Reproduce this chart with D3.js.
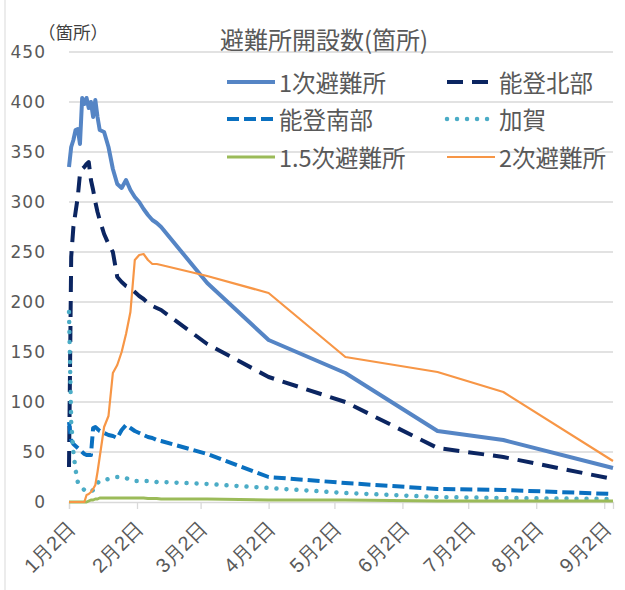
<!DOCTYPE html>
<html lang="ja">
<head>
<meta charset="UTF-8">
<title>避難所開設数</title>
<script src="https://d3js.org/d3.v7.min.js"></script>
<style>
    body {
        margin: 0;
        background: #fff;
        font-family: "Noto Sans CJK JP", "Noto Sans", sans-serif;
    }
    .tick-label {
        font-size: 20px;
        fill: #595959;
    }
    .y-label {
        font-family: "DejaVu Sans", sans-serif;
        font-size: 17px;
        letter-spacing: 1px;
        fill: #595959;
    }
    .title {
        font-size: 24px;
        fill: #595959;
    }
    .legend-text {
        font-size: 23.5px;
        fill: #595959;
    }
    .unit {
        font-size: 17.5px;
        fill: #404040;
    }
</style>
</head>
<body>
<script>
    const width = 625;
    const height = 590;

    // 日付 (1月〜2月は日次、以降は更新日)
    const dates = [
        "2024-01-02", "2024-01-03", "2024-01-04", "2024-01-05", "2024-01-06",
        "2024-01-07", "2024-01-08", "2024-01-09", "2024-01-10", "2024-01-11",
        "2024-01-12", "2024-01-13", "2024-01-14", "2024-01-15", "2024-01-16",
        "2024-01-18", "2024-01-20", "2024-01-22", "2024-01-24", "2024-01-26",
        "2024-01-28", "2024-01-30", "2024-02-01", "2024-02-03", "2024-02-05",
        "2024-02-07", "2024-02-09", "2024-02-11", "2024-02-13", "2024-03-05",
        "2024-04-02", "2024-05-07", "2024-06-18", "2024-07-18", "2024-09-06"
    ];

    const primary = [335, 355, 362, 372, 373, 358, 404, 398, 404, 394, 400, 385, 402, 385, 372,
        370, 355, 333, 318, 314, 322, 312, 305, 300, 293, 287, 282, 279, 275, 219,
        162, 129, 71, 62, 34];
    const notoNorth = [35, 245, 275, 290, 305, 328, 333, 335, 338, 340, 322, 312, 300, 290, 282,
        268, 258, 250, 225, 220, 216, 214, 210, 206, 203, 199, 196, 194, 192, 158,
        125, 100, 54, 45, 23];
    const notoSouth = [80, 62, 58, 56, 54, 52, 50, 48, 47, 47, 47, 74, 75, 73, 71,
        69, 67, 66, 64, 72, 77, 74, 71, 69, 67, 65, 64, 62, 61, 48,
        25, 19, 13, 12, 8];
    const kaga = [190, 80, 50, 32, 20, 17, 14, 12, 11, 10, 10, 12, 17, 19, 21,
        22, 23, 24, 25, 25, 24, 22, 21, 21, 21, 21, 21, 20, 20, 18,
        14, 9, 5, 4, 3];
    const welfare15 = [0, 0, 0, 0, 0, 0, 0, 0, 0, 1, 2, 2, 3, 3, 4,
        4, 4, 4, 4, 4, 4, 4, 4, 4, 4, 3.5, 3.5, 3.5, 3, 3,
        2, 2, 1, 1, 1];
    const secondary = [0, 0, 0, 0, 0, 0, 0, 0, 7, 8, 10, 13, 17, 30, 45,
        75, 86, 129, 137, 150, 168, 190, 242, 247, 248, 242, 238, 238, 237, 226,
        209, 145, 130, 110, 41];

    const yTicks = [0, 50, 100, 150, 200, 250, 300, 350, 400, 450];
    const xTickDates = ["2024-01-02", "2024-02-02", "2024-03-02", "2024-04-02", "2024-05-02",
        "2024-06-02", "2024-07-02", "2024-08-02", "2024-09-02"];

    const series = [
        { name: "1次避難所", values: primary, color: "#5585C5", w: 4, dash: null },
        { name: "能登北部", values: notoNorth, color: "#0B2561", w: 4, dash: "16,9" },
        { name: "能登南部", values: notoSouth, color: "#0A70C0", w: 4, dash: "12,5" },
        { name: "加賀", values: kaga, color: "#4BACC6", w: 4.5, dash: "0.01,10", cap: "round" },
        { name: "1.5次避難所", values: welfare15, color: "#9BBB59", w: 3, dash: null },
        { name: "2次避難所", values: secondary, color: "#F79646", w: 2.2, dash: null }
    ];

    const parse = d3.timeParse("%Y-%m-%d");

    const svg = d3.select("body").append("svg")
        .attr("width", width)
        .attr("height", height);

    // chart border (left edge)
    svg.append("line")
        .attr("x1", 5).attr("x2", 5)
        .attr("y1", 0).attr("y2", height)
        .attr("stroke", "#d9d9d9");

    const x = d3.scaleTime()
        .domain([parse("2024-01-02"), parse("2024-09-06")])
        .range([69, 613]);
    const y = d3.scaleLinear()
        .domain([0, 450])
        .range([502, 52]);

    // gridlines
    svg.append("g")
        .selectAll("line")
        .data(yTicks.filter(d => d > 0))
        .join("line")
        .attr("x1", 69).attr("x2", 613)
        .attr("y1", d => y(d)).attr("y2", d => y(d))
        .attr("stroke", "#d9d9d9")
        .attr("stroke-width", 1.3);

    // y labels
    svg.append("g")
        .selectAll("text")
        .data(yTicks)
        .join("text")
        .attr("class", "y-label")
        .attr("x", 46)
        .attr("y", d => y(d))
        .attr("text-anchor", "end")
        .attr("dominant-baseline", "central")
        .text(d => d);

    svg.append("text")
        .attr("class", "unit")
        .attr("x", 38)
        .attr("y", 39)
        .text("（箇所）");

    // x axis
    const xAxis = d3.axisBottom(x)
        .tickValues(xTickDates.map(parse))
        .tickSize(7)
        .tickFormat(d => (d.getMonth() + 1) + "月" + d.getDate() + "日");

    const gx = svg.append("g")
        .attr("transform", "translate(0,502)")
        .call(xAxis);
    gx.select(".domain").attr("stroke", "#d9d9d9").attr("stroke-width", 1.3);
    gx.selectAll(".tick line").attr("stroke", "#d9d9d9").attr("stroke-width", 1.3);
    gx.selectAll(".tick text")
        .attr("class", "tick-label")
        .attr("font-family", null)
        .attr("font-size", null)
        .attr("fill", null)
        .attr("text-anchor", "end")
        .attr("y", 0)
        .attr("dy", 0)
        .attr("transform", "translate(7,28) rotate(-45)");

    // lines
    const line = d3.line()
        .x((d, i) => x(parse(dates[i])))
        .y(d => y(d));

    series.forEach(s => {
        svg.append("path")
            .datum(s.values)
            .attr("d", line)
            .attr("fill", "none")
            .attr("stroke", s.color)
            .attr("stroke-width", s.w)
            .attr("stroke-linejoin", "round")
            .attr("stroke-linecap", s.cap || "butt")
            .attr("stroke-dasharray", s.dash);
    });

    // title
    svg.append("text")
        .attr("class", "title")
        .attr("x", 220)
        .attr("y", 49)
        .text("避難所開設数(箇所)");

    // legend
    const legendPos = [
        [227, 82], [447, 82],
        [227, 119], [447, 119],
        [227, 157], [447, 157]
    ];
    series.forEach((s, i) => {
        const [lx, ly] = legendPos[i];
        svg.append("line")
            .attr("x1", lx).attr("x2", lx + 48)
            .attr("y1", ly).attr("y2", ly)
            .attr("stroke", s.color)
            .attr("stroke-width", s.w)
            .attr("stroke-linecap", s.cap || "butt")
            .attr("stroke-dasharray", s.dash);
        svg.append("text")
            .attr("class", "legend-text")
            .attr("x", lx + 52)
            .attr("y", ly)
            .attr("dominant-baseline", "central")
            .text(s.name);
    });
</script>
</body>
</html>
